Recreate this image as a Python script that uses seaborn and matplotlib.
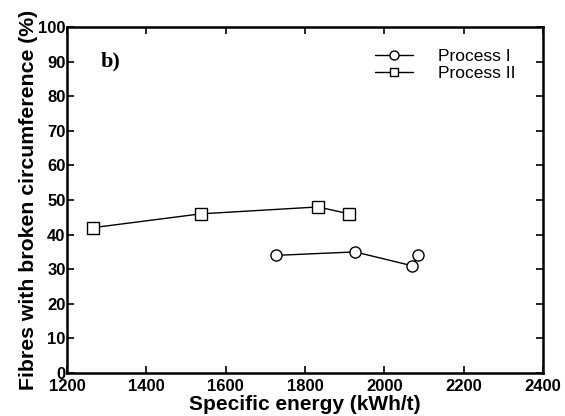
import numpy as np
import pandas as pd
import seaborn as sns
import matplotlib.pyplot as plt

# data
energy_p1 = [1727, 1926, 2070, 2085]
broken_p1 = [34, 35, 31, 34]
energy_p2 = [1265, 1537, 1833, 1911]
broken_p2 = [42, 46, 48, 46]
series_names = ["Process I", "Process II"]

df = pd.DataFrame({
    "energy": energy_p1 + energy_p2,
    "broken": broken_p1 + broken_p2,
    "process": [series_names[0]] * len(energy_p1) + [series_names[1]] * len(energy_p2),
})

sns.set_style("ticks")
plt.rcParams['font.family'] = ['Liberation Sans', 'DejaVu Sans']
for key in ["text.color", "axes.labelcolor", "xtick.color", "ytick.color", "axes.edgecolor"]:
    plt.rcParams[key] = "black"

fig = plt.figure(figsize=(5.65, 4.16), dpi=100)
ax = fig.add_axes([0.1186, 0.1034, 0.8425, 0.8316])

sns.lineplot(data=df, x="energy", y="broken", hue="process", style="process",
             markers={"Process I": "o", "Process II": "s"}, dashes=False,
             palette={"Process I": "black", "Process II": "black"},
             sort=False, estimator=None, ax=ax, linewidth=1.0,
             markersize=8, markerfacecolor="white", markeredgecolor="black",
             markeredgewidth=1.0)

ax.set_xlim(1200, 2400)
ax.set_ylim(0, 100)
ax.set_xticks(np.arange(1200, 2401, 200))
ax.set_yticks(np.arange(0, 101, 10))
ax.tick_params(direction="in", top=True, right=True, length=5, width=1.2,
               labelsize=12)
ax.tick_params(axis="x", pad=4)
ax.tick_params(axis="y", pad=1)
for lab in ax.get_xticklabels() + ax.get_yticklabels():
    lab.set_fontweight("bold")
for s in ax.spines.values():
    s.set_linewidth(1.8)

ax.set_xlabel("Specific energy (kWh/t)", fontsize=15, fontweight="bold", labelpad=1)
ax.set_ylabel("Fibres with broken circumference (%)", fontsize=15.3, fontweight="bold",
              labelpad=0)

ax.text(0.07, 0.90, "b)", transform=ax.transAxes, fontsize=16, fontweight="bold",
        family="Liberation Serif", va="center")

leg = ax.legend(title=None, loc="upper left", frameon=False, fontsize=12.5,
                handlelength=2.2, handletextpad=1.45, labelspacing=0.1,
                borderaxespad=0, borderpad=0, bbox_to_anchor=(0.647, 0.937))
for h in leg.legend_handles:
    h.set_markersize(6.5)
    h.set_markerfacecolor("white")
    h.set_markeredgecolor("black")
leg.legend_handles[1].set_markersize(5.5)

fig.savefig("out.png", dpi=100)
